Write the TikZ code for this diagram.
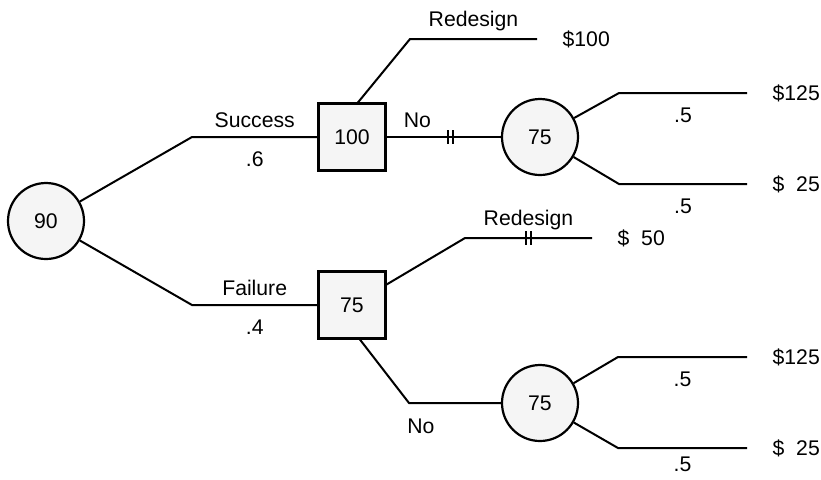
\documentclass[tikz,border=0pt]{standalone}
\usepackage{fontspec}
\setmainfont{Liberation Sans}
\usepackage{tikz}
\usetikzlibrary{positioning}

\begin{document}
\begin{tikzpicture}[x=0.5pt,y=-0.5pt,line width=1pt,
  font=\fontsize{10.6}{12.7}\selectfont,
  chance/.style={circle,draw,line width=1.1pt,fill=gray!8,minimum size=38pt,inner sep=0pt},
  decision/.style={rectangle,draw,line width=1.1pt,fill=gray!8,minimum size=33.5pt,inner sep=0pt},
  payoff/.style={inner sep=3.33pt},
  prob/.style={below=3.5pt}]
\useasboundingbox (0,0) rectangle (821,479);

% nodes
\node[chance] (root) at (46,221) {90};
\node[decision] (dA) at (352,137) {100};
\node[decision] (dB) at (352,305) {75};
\node[chance] (cA) at (540,137) {75};
\node[chance] (cB) at (540,403) {75};

% bend points
\coordinate (kS) at (192,137);
\coordinate (kF) at (192,305);
\coordinate (kRA) at (410,39);
\coordinate (kRB) at (465,238);
\coordinate (kNo) at (409,403);
\coordinate (kA1) at (619,93);
\coordinate (kA2) at (619,184);
\coordinate (kB1) at (618,357);
\coordinate (kB2) at (618,448);

% ends
\coordinate (eRA) at (537,39);
\coordinate (eRB) at (592,238);
\coordinate (eA1) at (747,93);
\coordinate (eA2) at (747,184);
\coordinate (eB1) at (747,357);
\coordinate (eB2) at (747,448);
\node[payoff, right=9pt of eRA] (vRA) {\$100};
\node[payoff, right=9pt of eRB] (vRB) {\$\hphantom{1}50};
\node[payoff, right=9pt of eA1] (vA1) {\$125};
\node[payoff, right=9pt of eA2] (vA2) {\$\hphantom{1}25};
\node[payoff, right=9pt of eB1] (vB1) {\$125};
\node[payoff, right=9pt of eB2] (vB2) {\$\hphantom{1}25};

% first chance
\draw (root) -- (kS) -- node[above=1pt] {Success} node[prob] {.6} (dA);
\draw (root) -- (kF) -- node[above=1pt] {Failure} node[prob] {.4} (dB);

% decision after success
\draw ([xshift=3pt]dA.north) -- (kRA) -- node[above] {Redesign} (eRA);
\draw (dA) -- node[above=1pt,pos=0.27] {No} coordinate[pos=0.56] (tA) (cA);
\draw ([xshift=-1.3pt]tA) ++(0,-7) -- ++(0,14);
\draw ([xshift=1.3pt]tA) ++(0,-7) -- ++(0,14);

% decision after failure
\draw (dB) -- (kRB) -- node[above] {Redesign} coordinate[pos=0.5] (tB) (eRB);
\draw ([xshift=-1.3pt]tB) ++(0,-7) -- ++(0,14);
\draw ([xshift=1.3pt]tB) ++(0,-7) -- ++(0,14);
\draw ([xshift=4pt]dB.south) -- (kNo) -- node[below=4pt,pos=0.13] {No} (cB);

% outcomes
\draw (cA) -- (kA1) -- node[prob] {.5} (eA1);
\draw (cA) -- (kA2) -- node[prob] {.5} (eA2);
\draw (cB) -- (kB1) -- node[prob] {.5} (eB1);
\draw (cB) -- (kB2) -- node[below=0.5pt] {.5} (eB2);
\end{tikzpicture}
\end{document}
